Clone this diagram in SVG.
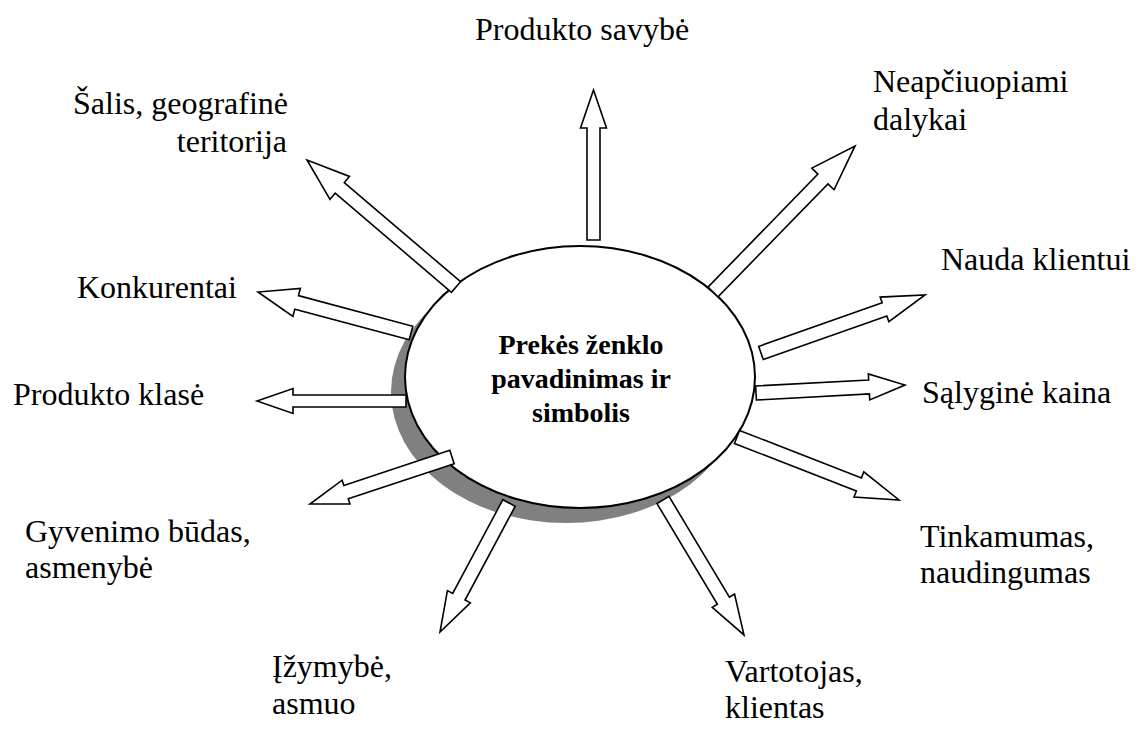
<svg xmlns="http://www.w3.org/2000/svg" width="1144" height="729" viewBox="0 0 1144 729">
<style>
.lbl{font-size:32px;fill:#000}
.ctr{font-size:28px;font-weight:bold;fill:#000}
.arr{fill:#fff;stroke:#000;stroke-width:1.6;stroke-linejoin:miter}
</style>
<rect width="1144" height="729" fill="#fff"/>
<g font-family="Liberation Serif">
<g id="center">
<ellipse cx="566" cy="392" rx="175" ry="131" fill="#808080"/>
<ellipse cx="580" cy="377" rx="175" ry="131" fill="#fff" stroke="#000" stroke-width="2"/>
<text class="ctr" x="581" y="354" text-anchor="middle">Prekės ženklo</text>
<text class="ctr" x="581" y="388" text-anchor="middle">pavadinimas ir</text>
<text class="ctr" x="581" y="422" text-anchor="middle">simbolis</text>
</g>
<g id="connectors">
<polygon class="arr" transform="translate(593.5,240) rotate(-90)" points="0,-6.5 112,-6.5 112,-13 150,0 112,13 112,6.5 0,6.5"/>
<polygon class="arr" transform="translate(456,287) rotate(-139.55)" points="0,-7 152.8,-7 152.8,-15 195.8,0 152.8,15 152.8,7 0,7"/>
<polygon class="arr" transform="translate(713,292) rotate(-45.8)" points="0,-7 157.7,-7 157.7,-15.5 203.7,0 157.7,15.5 157.7,7 0,7"/>
<polygon class="arr" transform="translate(761,353) rotate(-19.47)" points="0,-7 131,-7 131,-13 174,0 131,13 131,7 0,7"/>
<polygon class="arr" transform="translate(756,393) rotate(-3.07)" points="0,-7 113.2,-7 113.2,-13 149.2,0 113.2,13 113.2,7 0,7"/>
<polygon class="arr" transform="translate(737,437) rotate(21.25)" points="0,-7 130.8,-7 130.8,-13.5 173.8,0 130.8,13.5 130.8,7 0,7"/>
<polygon class="arr" transform="translate(663,500) rotate(59.04)" points="0,-7 117.4,-7 117.4,-13 157.4,0 117.4,13 117.4,7 0,7"/>
<polygon class="arr" transform="translate(509,503) rotate(118.14)" points="0,-7 106.3,-7 106.3,-13 146.3,0 106.3,13 106.3,7 0,7"/>
<polygon class="arr" transform="translate(452,457) rotate(161.69)" points="0,-7 111.6,-7 111.6,-12.5 149.6,0 111.6,12.5 111.6,7 0,7"/>
<polygon class="arr" transform="translate(406,401) rotate(180)" points="0,-6 113,-6 113,-12.5 149,0 113,12.5 113,6 0,6"/>
<polygon class="arr" transform="translate(411,333) rotate(-165)" points="0,-7 118.4,-7 118.4,-14.5 158.4,0 118.4,14.5 118.4,7 0,7"/>
</g>
<g id="n-savybe"><text class="lbl" x="475" y="40">Produkto savybė</text></g>
<g id="n-salis"><text class="lbl" x="73" y="114">Šalis, geografinė</text><text class="lbl" x="287" y="152" text-anchor="end">teritorija</text></g>
<g id="n-neapciuopiami"><text class="lbl" x="873" y="92">Neapčiuopiami</text><text class="lbl" x="873" y="130">dalykai</text></g>
<g id="n-konkurentai"><text class="lbl" x="77" y="298">Konkurentai</text></g>
<g id="n-nauda"><text class="lbl" x="941" y="270">Nauda klientui</text></g>
<g id="n-klase"><text class="lbl" x="13" y="405">Produkto klasė</text></g>
<g id="n-kaina"><text class="lbl" x="922" y="403">Sąlyginė kaina</text></g>
<g id="n-gyvenimo"><text class="lbl" x="25" y="542">Gyvenimo būdas,</text><text class="lbl" x="25" y="578">asmenybė</text></g>
<g id="n-tinkamumas"><text class="lbl" x="920" y="547">Tinkamumas,</text><text class="lbl" x="920" y="583">naudingumas</text></g>
<g id="n-izymybe"><text class="lbl" x="272" y="677">Įžymybė,</text><text class="lbl" x="272" y="714">asmuo</text></g>
<g id="n-vartotojas"><text class="lbl" x="725" y="682">Vartotojas,</text><text class="lbl" x="725" y="718">klientas</text></g>
</g>
</svg>
